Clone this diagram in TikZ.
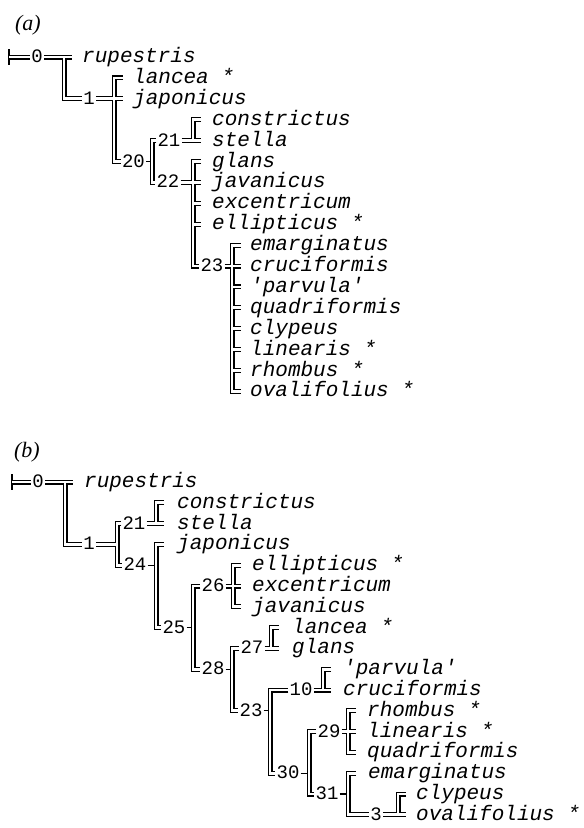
\documentclass[tikz,border=0pt]{standalone}
\usepackage{fontspec}
\newfontfamily\leaffont{Liberation Mono}
\newfontfamily\capfont{Liberation Serif}
\begin{document}
\begin{tikzpicture}[x=1pt,y=-1pt,
  dbl/.style={double distance=2.8pt, line width=1.1pt},
  tick/.style={line width=1.1pt},
  roottick/.style={line width=2.2pt},
  leaf/.style={anchor=base west, inner sep=0pt, yshift=-5.5pt, font=\leaffont\itshape\fontsize{21}{21}\selectfont},
  lab/.style={inner sep=1pt, text height=11pt, text depth=0pt, font=\leaffont\fontsize{19}{19}\selectfont},
  panellabel/.style={inner sep=0pt, font=\capfont\itshape\fontsize{22}{22}\selectfont}]
\useasboundingbox (0,0) rectangle (584,828);

% ---------------- panel (a) ----------------
\node[panellabel] (capa) at (28,25) {(a)};
\node[leaf] (a-rup) at (82,57) {rupestris};
\node[leaf] (a-lan) at (133,77.9) {lancea *};
\node[leaf] (a-jap) at (133,98.8) {japonicus};
\node[leaf] (a-con) at (212,119.7) {constrictus};
\node[leaf] (a-ste) at (212,140.6) {stella};
\node[leaf] (a-gla) at (212,161.5) {glans};
\node[leaf] (a-jav) at (212,182.4) {javanicus};
\node[leaf] (a-exc) at (212,203.3) {excentricum};
\node[leaf] (a-ell) at (212,224.2) {ellipticus *};
\node[leaf] (a-ema) at (250,245.1) {emarginatus};
\node[leaf] (a-cru) at (250,266) {cruciformis};
\node[leaf] (a-par) at (250,286.9) {'parvula'};
\node[leaf] (a-qua) at (250,307.8) {quadriformis};
\node[leaf] (a-cly) at (250,328.7) {clypeus};
\node[leaf] (a-lin) at (250,349.6) {linearis *};
\node[leaf] (a-rho) at (250,370.5) {rhombus *};
\node[leaf] (a-ova) at (250,391.4) {ovalifolius *};

\node[lab] (a0) at (37,57) {0};
\node[lab] (a1) at (89,98.8) {1};
\node[lab] (a20) at (133.5,161.5) {20};
\node[lab] (a21) at (169,140.6) {21};
\node[lab] (a22) at (168,182.4) {22};
\node[lab] (a23) at (212,266) {23};

\coordinate (a-root) at (9,57);
\draw[roottick] (9,49) -- (9,65);
\draw[dbl] (a-root) -- (a0.west);
% node 0
\draw[dbl] (a0.east) -- (72,57) (64,57) |- (a1.west);
% node 1
\draw[dbl] (123,77.9) -- (114,77.9) |- (a20.west) (a1.east) -- (123,98.8);
% node 20
\draw[dbl] (a21.west) -- (152,140.6) -- (152,182.4) -- (a22.west);
\draw[tick] (a20.east) -- (150,161.5);
% node 21
\draw[dbl] (201,119.7) -- (193,119.7) -- (193,140.6) (a21.east) -- (201,140.6);
% node 22
\draw[dbl] (201,161.5) -- (193,161.5) |- (a23.west) (a22.east) -- (201,182.4)
  (193,203.3) -- (201,203.3) (193,224.2) -- (201,224.2);
% node 23
\draw[dbl] (241,245.1) -- (232,245.1) -- (232,391.4) -- (241,391.4) (a23.east) -- (241,266)
  (232,286.9) -- (241,286.9) (232,307.8) -- (241,307.8) (232,328.7) -- (241,328.7)
  (232,349.6) -- (241,349.6) (232,370.5) -- (241,370.5);

% ---------------- panel (b) ----------------
\node[panellabel] (capb) at (27,452) {(b)};
\node[leaf] (b-rup) at (84,482) {rupestris};
\node[leaf] (b-con) at (177,502.8) {constrictus};
\node[leaf] (b-ste) at (177,523.6) {stella};
\node[leaf] (b-jap) at (177,544.4) {japonicus};
\node[leaf] (b-ell) at (252,565.2) {ellipticus *};
\node[leaf] (b-exc) at (252,586) {excentricum};
\node[leaf] (b-jav) at (252,606.8) {javanicus};
\node[leaf] (b-lan) at (292,627.6) {lancea *};
\node[leaf] (b-gla) at (292,648.4) {glans};
\node[leaf] (b-par) at (343,669.2) {'parvula'};
\node[leaf] (b-cru) at (343,690) {cruciformis};
\node[leaf] (b-rho) at (367,710.8) {rhombus *};
\node[leaf] (b-lin) at (367,731.6) {linearis *};
\node[leaf] (b-qua) at (367,752.4) {quadriformis};
\node[leaf] (b-ema) at (368,773.2) {emarginatus};
\node[leaf] (b-cly) at (416,794) {clypeus};
\node[leaf] (b-ova) at (416,814.8) {ovalifolius *};

\node[lab] (b0) at (38,482) {0};
\node[lab] (b1) at (89,544.4) {1};
\node[lab] (b21) at (134,523.6) {21};
\node[lab] (b24) at (135,565.2) {24};
\node[lab] (b26) at (213,586) {26};
\node[lab] (b25) at (174,627.6) {25};
\node[lab] (b27) at (252,648.4) {27};
\node[lab] (b28) at (213,669.2) {28};
\node[lab] (b10) at (301,690) {10};
\node[lab] (b23) at (251,710.8) {23};
\node[lab] (b29) at (329,731.6) {29};
\node[lab] (b30) at (288,773.2) {30};
\node[lab] (b31) at (327,794) {31};
\node[lab] (b3) at (376,814.8) {3};

\coordinate (b-root) at (12,482);
\draw[roottick] (12,474) -- (12,490);
\draw[dbl] (b-root) -- (b0.west);
% node 0
\draw[dbl] (b0.east) -- (73,482) (65,482) |- (b1.west);
% node 1
\draw[dbl] (b21.west) -- (117,523.6) -- (117,565.2) -- (b24.west) (b1.east) -- (117,544.4);
% node 21
\draw[dbl] (164,502.8) -- (156,502.8) -- (156,523.6) (b21.east) -- (164,523.6);
% node 24
\draw[dbl] (164,544.4) -- (156,544.4) -- (156,627.6) -- (b25.west);
\draw[tick] (b24.east) -- (154,565.2);
% node 25
\draw[dbl] (b26.west) -- (193,586) -- (193,669.2) -- (b28.west);
\draw[tick] (b25.east) -- (191,627.6);
% node 26
\draw[dbl] (241,565.2) -- (233,565.2) -- (233,606.8) -- (241,606.8) (b26.east) -- (241,586);
% node 28
\draw[dbl] (b27.west) -- (232,648.4) -- (232,710.8) -- (b23.west);
\draw[tick] (b28.east) -- (230,669.2);
% node 27
\draw[dbl] (279,627.6) -- (271,627.6) -- (271,648.4) (b27.east) -- (279,648.4);
% node 23
\draw[dbl] (b10.west) -- (270,690) -- (270,773.2) -- (b30.west);
\draw[tick] (b23.east) -- (268,710.8);
% node 10
\draw[dbl] (331,669.2) -- (323,669.2) -- (323,690) (b10.east) -- (331,690);
% node 30
\draw[dbl] (b29.west) -- (309,731.6) -- (309,794) -- (b31.west);
\draw[tick] (b30.east) -- (307,773.2);
% node 29
\draw[dbl] (356,710.8) -- (348,710.8) -- (348,752.4) -- (356,752.4) (b29.east) -- (356,731.6);
% node 31
\draw[dbl] (356,773.2) -- (348,773.2) -- (348,814.8) -- (b3.west);
\draw[tick] (b31.east) -- (346,794);
% node 3
\draw[dbl] (406,794) -- (398,794) -- (398,814.8) (b3.east) -- (406,814.8);
\end{tikzpicture}
\end{document}
